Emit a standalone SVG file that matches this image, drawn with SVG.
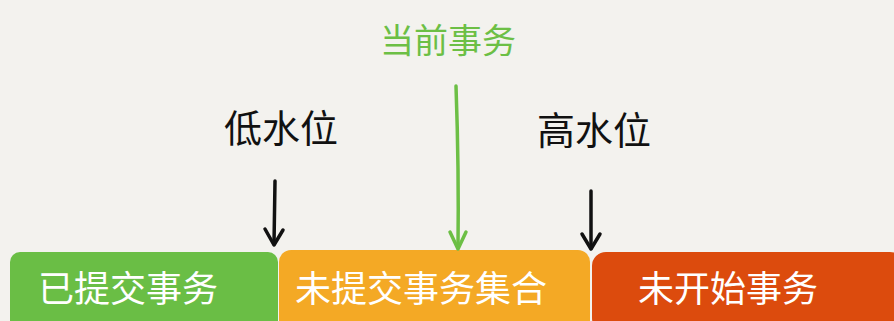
<svg xmlns="http://www.w3.org/2000/svg" width="894" height="321" viewBox="0 0 894 321">
<style>
.bg{fill:#f3f2ee}
.t{font-family:"Noto Sans CJK SC","Noto Sans",sans-serif;text-anchor:middle}
.w{fill:#ffffff;font-size:36px}
.k{fill:#111111;font-size:38px}
.g{fill:#6cbf45;font-size:34px}
.ln{fill:none;stroke-linecap:round;stroke-linejoin:round}
.blk{stroke:#111111;stroke-width:3.5}
.grn{stroke:#6cbf45;stroke-width:3.5}
</style>
<rect class="bg" x="0" y="0" width="894" height="321"/>
<g id="committed">
<rect x="10" y="252" width="268" height="80" rx="10" fill="#6abe45"/>
<text class="t w" x="128" y="302">已提交事务</text>
</g>
<g id="uncommitted">
<rect x="279" y="250" width="311" height="82" rx="12" fill="#f4a925"/>
<text class="t w" x="421" y="302">未提交事务集合</text>
</g>
<g id="notstarted">
<rect x="592" y="252" width="312" height="80" rx="14" fill="#dc4b0d"/>
<text class="t w" x="728" y="302">未开始事务</text>
</g>
<g id="current">
<text class="t g" x="448" y="53">当前事务</text>
</g>
<g id="low">
<text class="t k" x="281" y="142">低水位</text>
</g>
<g id="high">
<text class="t k" x="594" y="144">高水位</text>
</g>
<g id="connectors">
<path class="ln blk" d="M275 181 L274 244"/>
<path class="ln blk" d="M265 229 L274 245 L283 230"/>
<path class="ln grn" d="M456 86 Q459 170 458 248"/>
<path class="ln grn" d="M450 232 L458 249 L466 232"/>
<path class="ln blk" d="M591 191 L591 248"/>
<path class="ln blk" d="M582 234 L591 249 L600 234"/>
</g>
</svg>
